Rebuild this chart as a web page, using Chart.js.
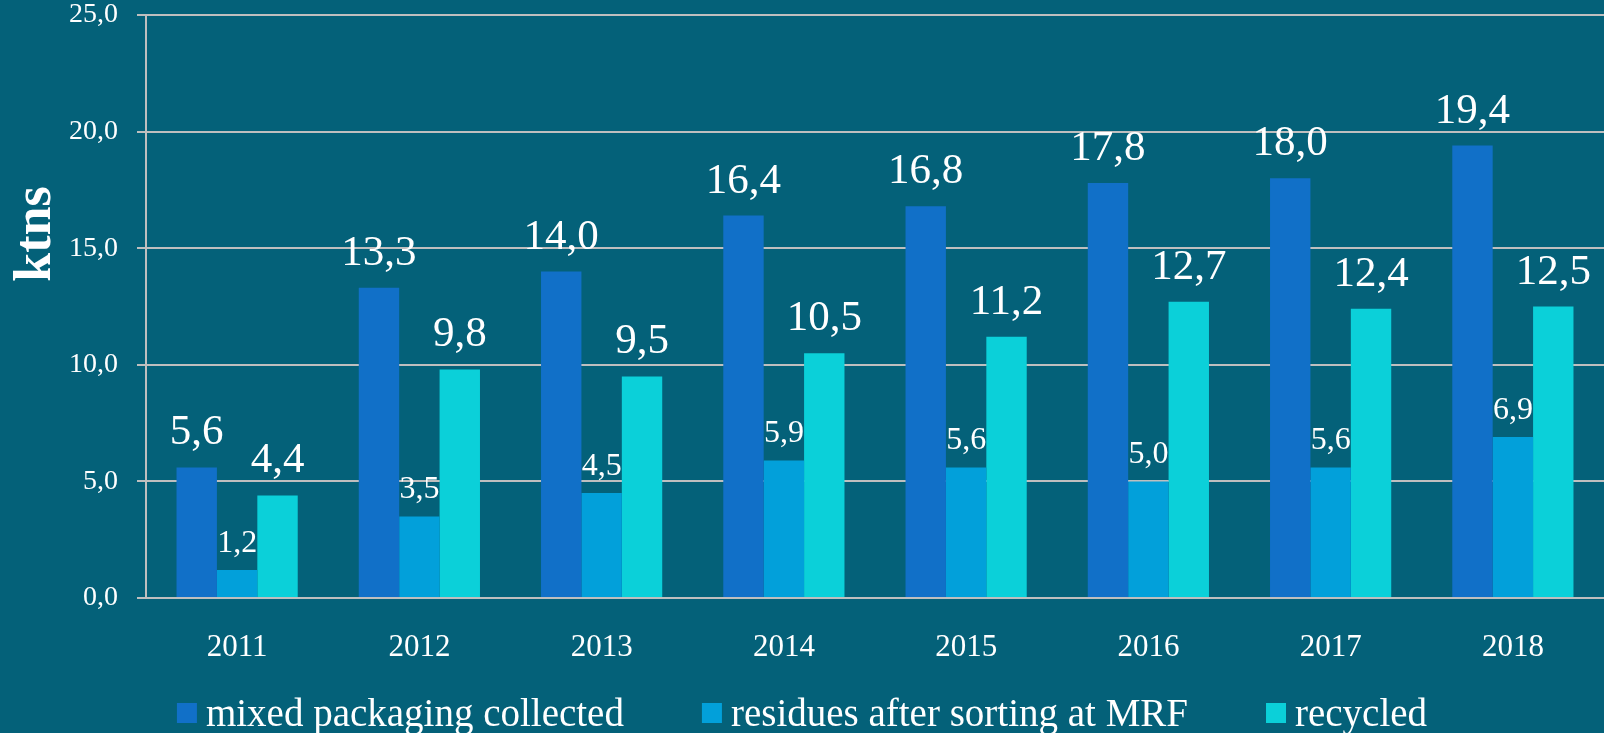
<!DOCTYPE html>
<html>
<head>
<meta charset="utf-8">
<script src="https://cdn.jsdelivr.net/npm/chart.js@4/dist/chart.umd.min.js"></script>
<style>
    html, body { margin: 0; padding: 0; background: #046179; }
    #wrap { width: 1604px; height: 733px; position: relative; }
</style>
</head>
<body>
<div id="wrap"><canvas id="chart"></canvas></div>
<script>
const years = ["2011", "2012", "2013", "2014", "2015", "2016", "2017", "2018"];
const mixedCollected = [5.6, 13.3, 14.0, 16.4, 16.8, 17.8, 18.0, 19.4];
const residuesMRF = [1.2, 3.5, 4.5, 5.9, 5.6, 5.0, 5.6, 6.9];
const recycled = [4.4, 9.8, 9.5, 10.5, 11.2, 12.7, 12.4, 12.5];
const seriesNames = ["mixed packaging collected", "residues after sorting at MRF", "recycled"];
const yTitle = "ktns";

const FONT = "'Liberation Serif', 'Times New Roman', serif";
const fmt = v => v.toFixed(1).replace(".", ",");

// value labels above each bar
const barLabels = {
    id: "barLabels",
    afterDatasetsDraw(chart) {
        const ctx = chart.ctx;
        ctx.save();
        ctx.fillStyle = "#ffffff";
        ctx.textAlign = "center";
        ctx.textBaseline = "alphabetic";
        chart.data.datasets.forEach((ds, di) => {
            const meta = chart.getDatasetMeta(di);
            const small = di === 1;
            ctx.font = (small ? "32px " : "43px ") + FONT;
            meta.data.forEach((bar, i) => {
                ctx.fillText(fmt(ds.data[i]), bar.x, bar.y - (small ? 18 : 23));
            });
        });
        ctx.restore();
    }
};

// axis title + legend drawn by hand so they sit where the original has them
const extras = {
    id: "extras",
    afterDraw(chart) {
        const ctx = chart.ctx;
        ctx.save();
        ctx.fillStyle = "#ffffff";
        ctx.font = "bold 52px " + FONT;
        ctx.translate(50, 234);
        ctx.rotate(-Math.PI / 2);
        ctx.textAlign = "center";
        ctx.textBaseline = "alphabetic";
        ctx.fillText(yTitle, 0, 0);
        ctx.restore();

        ctx.save();
        ctx.font = "39px " + FONT;
        const box = 20, gap = 9, spacing = 78;
        const widths = chart.data.datasets.map(ds => ctx.measureText(ds.label).width);
        const total = widths.reduce((a, w) => a + box + gap + w, 0) + spacing * (widths.length - 1);
        let x = (chart.width - total) / 2;
        chart.data.datasets.forEach((ds, i) => {
            ctx.fillStyle = ds.backgroundColor;
            ctx.fillRect(x, 703, box, box);
            ctx.fillStyle = "#ffffff";
            ctx.textBaseline = "alphabetic";
            ctx.fillText(ds.label, x + box + gap, 726);
            x += box + gap + widths[i] + spacing;
        });
        ctx.restore();
    }
};

const bgPlugin = {
    id: "bg",
    beforeDraw(chart) {
        const ctx = chart.ctx;
        ctx.save();
        ctx.fillStyle = "#046179";
        ctx.fillRect(0, 0, chart.width, chart.height);
        ctx.restore();
    }
};

new Chart(document.getElementById("chart"), {
    type: "bar",
    data: {
        labels: years,
        datasets: [
            { label: seriesNames[0], data: mixedCollected, backgroundColor: "#1170C8" },
            { label: seriesNames[1], data: residuesMRF, backgroundColor: "#02A0DA" },
            { label: seriesNames[2], data: recycled, backgroundColor: "#0BD0D9" }
        ]
    },
    options: {
        responsive: true,
        maintainAspectRatio: false,
        animation: false,
        categoryPercentage: 0.665,
        barPercentage: 1.0,
        layout: { padding: { top: 15, right: 0, bottom: 70, left: 0 } },
        plugins: {
            legend: { display: false },
            tooltip: { enabled: false }
        },
        scales: {
            x: {
                afterFit: s => { s.height = 65; s.paddingLeft = 0; s.paddingRight = 0; },
                grid: { display: false, drawTicks: false },
                border: { display: true, color: "#BFBFBF", width: 2 },
                ticks: {
                    color: "#ffffff",
                    font: { family: FONT, size: 31 },
                    padding: 31,
                    maxRotation: 0
                }
            },
            y: {
                min: 0,
                max: 25,
                afterFit: s => { s.width = 146; s.paddingTop = 0; s.paddingBottom = 0; },
                grid: { color: "#BFBFBF", lineWidth: 2, tickLength: 9 },
                border: { display: true, color: "#BFBFBF", width: 2 },
                ticks: {
                    stepSize: 5,
                    color: "#ffffff",
                    font: { family: FONT, size: 28 },
                    padding: 19,
                    callback: v => fmt(v)
                }
            }
        }
    },
    plugins: [bgPlugin, barLabels, extras]
});
</script>
</body>
</html>
